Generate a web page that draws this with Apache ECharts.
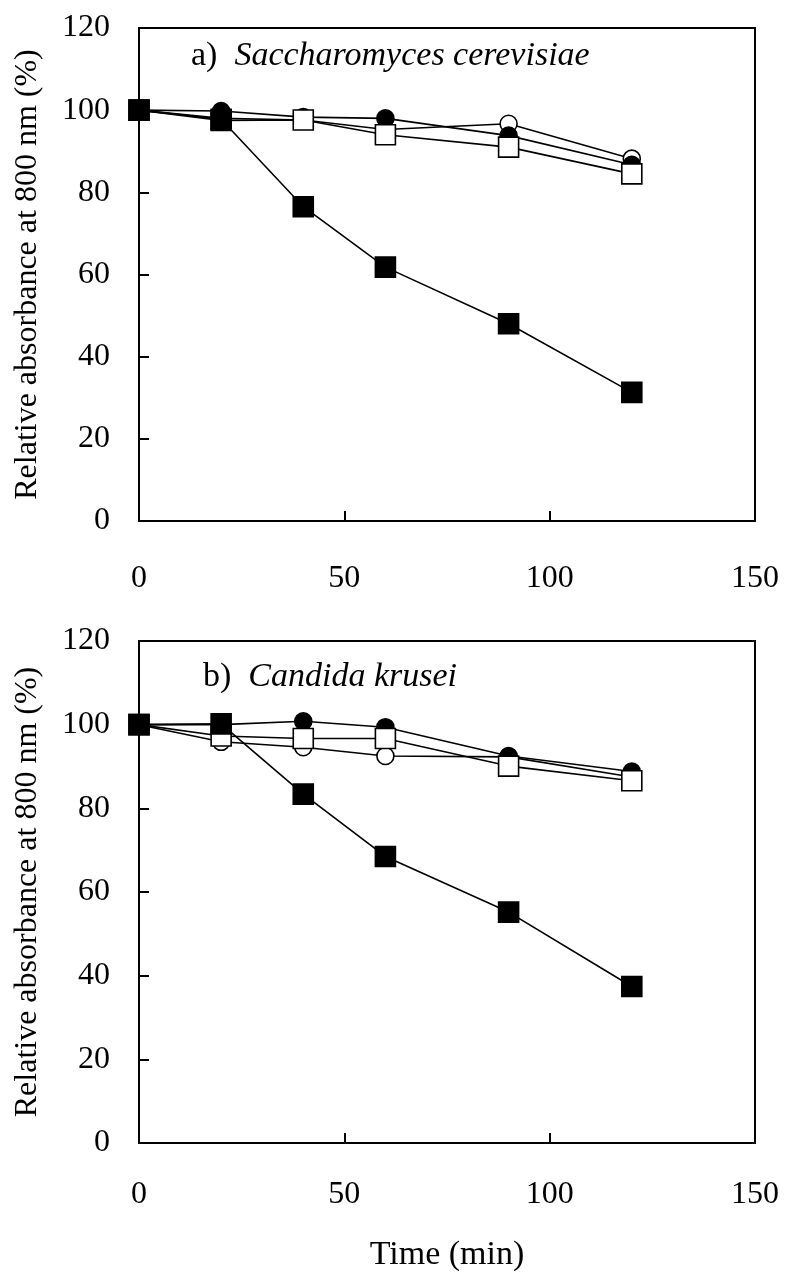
<!DOCTYPE html>
<html><head><meta charset="utf-8">
<script src="https://cdn.jsdelivr.net/npm/echarts@6/dist/echarts.min.js"></script>
<style>html,body{margin:0;padding:0;background:#fff}#c{width:785px;height:1273px}</style>
</head><body><div id="c"></div>
<script>
const times = [0, 20, 40, 60, 90, 120];
const xTicks = [0, 50, 100, 150];
const yTicks = [0, 20, 40, 60, 80, 100, 120];

// a) Saccharomyces cerevisiae
const openCircleA   = [100, 98.0, 97.6, 95.3, 96.7, 88.2];
const filledCircleA = [100, 99.8, 98.3, 98.0, 93.8, 86.7];
const openSquareA   = [100, 97.5, 97.6, 94.0, 91.0, 84.5];
const filledSquareA = [100, 97.8, 76.5, 61.8, 48.0, 31.3];

// b) Candida krusei
const openCircleB   = [100, 95.9, 94.6, 92.5, 92.3, 87.5];
const filledCircleB = [100, 100.0, 100.8, 99.4, 92.5, 88.8];
const openSquareB   = [100, 97.3, 96.7, 96.7, 90.1, 86.6];
const filledSquareB = [100, 100.2, 83.4, 68.5, 55.2, 37.4];

const titleA = ['a)', 'Saccharomyces cerevisiae'];
const titleB = ['b)', 'Candida krusei'];
const xName = 'Time (min)';
const yName = 'Relative absorbance at 800 nm (%)';

const FONT = 'Liberation Serif';
const chart = echarts.init(document.getElementById('c'), null, {renderer: 'canvas'});

function pairs(vals) { return times.map((t, i) => [t, vals[i]]); }

const grids = [
  {left: 139, top: 28, width: 616, height: 493, show: true, borderColor: '#000', borderWidth: 2, backgroundColor: 'transparent'},
  {left: 139, top: 641, width: 616, height: 502, show: true, borderColor: '#000', borderWidth: 2, backgroundColor: 'transparent'}
];

function xAxis(gi, withName, margin) {
  return {
    type: 'value', gridIndex: gi, min: xTicks[0], max: xTicks[xTicks.length - 1], interval: 50,
    axisLine: {show: true, lineStyle: {color: '#000', width: 2}},
    axisTick: {show: true, inside: true, length: 10, lineStyle: {color: '#000', width: 2}},
    axisLabel: {color: '#000', fontFamily: FONT, fontSize: 32, margin: margin},
    splitLine: {show: false},
    name: withName ? xName : '', nameLocation: 'middle', nameGap: 95,
    nameTextStyle: {color: '#000', fontFamily: FONT, fontSize: 34}
  };
}
function yAxis(gi) {
  return {
    type: 'value', gridIndex: gi, min: yTicks[0], max: yTicks[yTicks.length - 1], interval: 20,
    axisLine: {show: true, lineStyle: {color: '#000', width: 2}},
    axisTick: {show: true, inside: true, length: 10, lineStyle: {color: '#000', width: 2}},
    axisLabel: {color: '#000', fontFamily: FONT, fontSize: 32, margin: 29},
    splitLine: {show: false},
    name: yName, nameLocation: 'middle', nameGap: 95, nameRotate: 90,
    nameTextStyle: {color: '#000', fontFamily: FONT, fontSize: 32}
  };
}

function ser(gi, vals, symbol, filled) {
  const isSq = symbol === 'rect';
  return {
    type: 'line', xAxisIndex: gi, yAxisIndex: gi, data: pairs(vals),
    symbol: symbol, symbolSize: isSq ? 20 : 17, showSymbol: true,
    lineStyle: {color: '#000', width: 1.6},
    itemStyle: {color: filled ? '#000' : '#fff', borderColor: '#000', borderWidth: 1.6},
    silent: true, animation: false
  };
}

function titleGraphic(t, x, y) {
  return {
    type: 'text', left: x, top: y,
    style: {
      text: '{n|' + t[0] + '}  {s|' + t[1] + '}',
      rich: {
        n: {fontFamily: FONT, fontSize: 34, fill: '#000'},
        s: {fontFamily: FONT, fontSize: 34, fontStyle: 'italic', fill: '#000'}
      },
      fill: '#000', fontFamily: FONT, fontSize: 34
    }
  };
}

chart.setOption({
  animation: false,
  backgroundColor: '#fff',
  grid: grids,
  xAxis: [xAxis(0, false, 42), xAxis(1, true, 36)],
  yAxis: [yAxis(0), yAxis(1)],
  graphic: [titleGraphic(titleA, 191, 39), titleGraphic(titleB, 203, 660)],
  series: [
    ser(0, openCircleA, 'circle', false),
    ser(0, filledCircleA, 'circle', true),
    ser(0, openSquareA, 'rect', false),
    ser(0, filledSquareA, 'rect', true),
    ser(1, openCircleB, 'circle', false),
    ser(1, filledCircleB, 'circle', true),
    ser(1, openSquareB, 'rect', false),
    ser(1, filledSquareB, 'rect', true)
  ]
});
</script></body></html>
